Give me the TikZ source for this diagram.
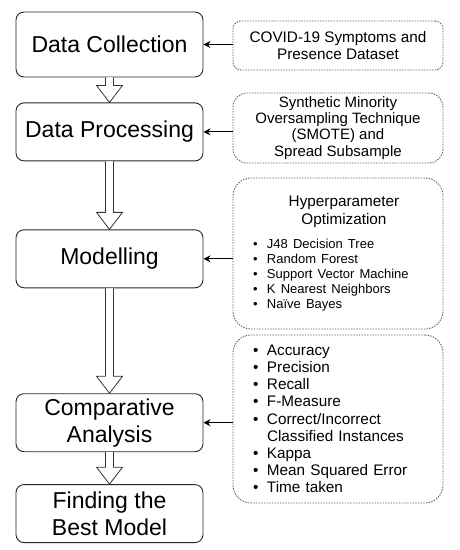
\documentclass[tikz,border=0pt]{standalone}
\usepackage{fontspec}
\setmainfont{Liberation Sans}
\usepackage{tikz}
\usetikzlibrary{arrows.meta,positioning,calc}
\newcommand{\bitem}{\makebox[14pt][l]{\textbullet}}
\newcommand{\bcont}{\hspace*{14pt}}

\begin{document}
\begin{tikzpicture}[x=1pt, y=-1pt, >={Stealth[length=7pt,width=7pt]},
      stage/.style={draw=black!85, line width=0.9pt, rounded corners=8pt,
                    minimum width=187pt, minimum height=58pt, align=center,
                    font=\fontsize{23}{27}\selectfont},
      note/.style={draw=black!60, line width=0.9pt, dash pattern=on 1.5pt off 1.2pt,
                   rounded corners=18pt, minimum width=210pt, inner ysep=1pt,
                   font=\fontsize{15.3}{17.2}\selectfont},
      hollow/.style={draw=black!80, fill=white, line width=0.8pt, line join=miter},
      arr/.style={->, line width=1pt}
    ]
    \useasboundingbox (0,0) rectangle (460,550);

    % main flow
    \node[stage, minimum height=65pt] (coll) at (109.5,44.5) {Data Collection};
    \node[stage, below=25pt of coll] (proc) {Data Processing};
    \node[stage, below=68pt of proc] (model) {Modelling};
    \node[stage, below=105pt of model] (comp) {Comparative\\Analysis};
    \node[stage, below=32pt of comp] (best) {Finding the\\Best Model};

    % side notes
    \node[note, rounded corners=8pt, minimum height=49pt, align=center]
      (dataset) at (338,45.5) {COVID-19 Symptoms and\\Presence Dataset};
    \node[note, rounded corners=14pt, minimum height=70pt, align=center,
          font=\fontsize{15}{16.2}\selectfont]
      (smote) at (338,128) {Synthetic Minority\\Oversampling Technique\\(SMOTE) and\\Spread Subsample};
    \node[note, minimum height=151pt, text width=170pt, align=left]
      (hyper) at (338,253.5) {%
        {\centering\hspace*{12pt}Hyperparameter\\\hspace*{12pt}Optimization\par}
        \vspace{9pt}
        {\fontsize{13}{15}\selectfont
        \bitem J48 Decision Tree\\
        \bitem Random Forest\\
        \bitem Support Vector Machine\\
        \bitem K Nearest Neighbors\\
        \bitem Naïve Bayes\par}};
    \node[note, minimum height=168pt, text width=170pt, align=left]
      (metric) at (338,419) {%
        \bitem Accuracy\\
        \bitem Precision\\
        \bitem Recall\\
        \bitem F-Measure\\
        \bitem Correct/Incorrect\\
        \bcont Classified Instances\\
        \bitem Kappa\\
        \bitem Mean Squared Error\\
        \bitem Time taken};

    % block arrows between stages
    \foreach \a/\b in {coll/proc, proc/model, model/comp, comp/best}
      \draw[hollow] let \p1=(\a.south), \p2=(\b.north) in
        (\x1-4pt,\y1) -- (\x1-4pt,\y2+17pt) -- (\x1-13pt,\y2+17pt) -- (\x1,\y2)
        -- (\x1+13pt,\y2+17pt) -- (\x1+4pt,\y2+17pt) -- (\x1+4pt,\y1);

    % inputs
    \draw[arr] (coll.east -| dataset.west) -- (coll.east);
    \draw[arr] (proc.east -| smote.west) -- (proc.east);
    \draw[arr] (model.east -| hyper.west) -- (model.east);
    \draw[arr] (comp.east -| metric.west) -- (comp.east);
  \end{tikzpicture}
\end{document}
